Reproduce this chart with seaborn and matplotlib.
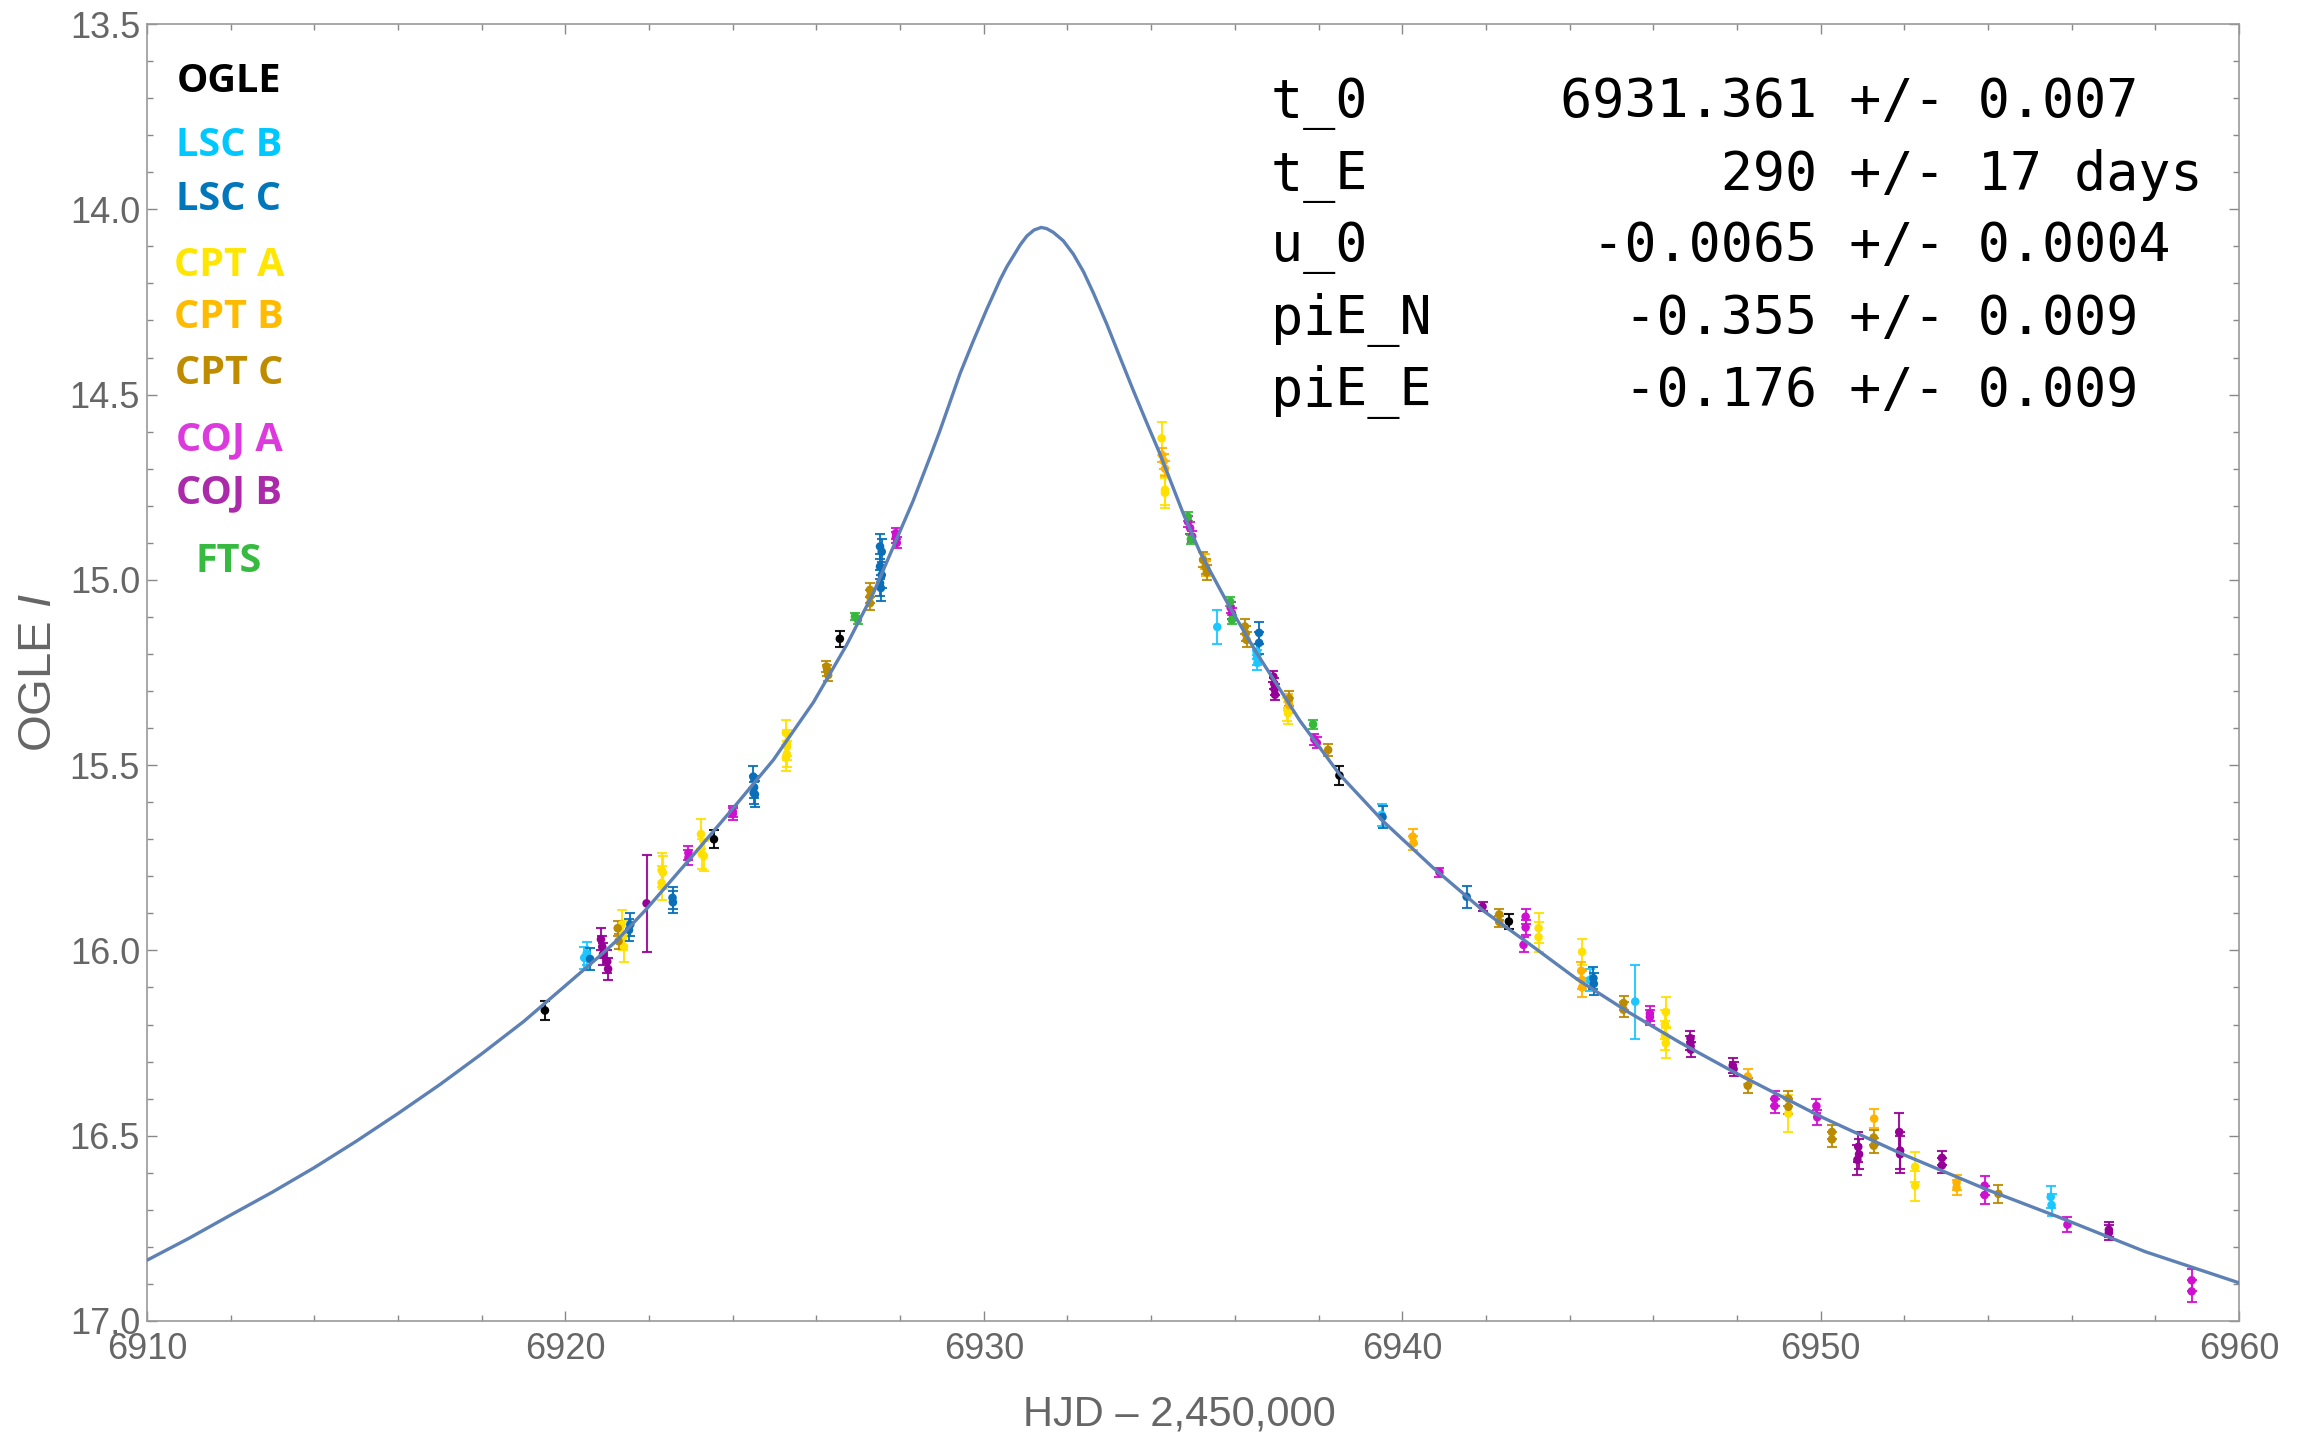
import numpy as np
import pandas as pd
import matplotlib
matplotlib.use("Agg")
import matplotlib.pyplot as plt
from matplotlib.ticker import MultipleLocator
import seaborn as sns

# ---------------- model curve ----------------
model_t = [6910.0, 6911.0, 6912.0, 6913.0, 6914.0, 6915.0, 6916.0, 6917.0, 6918.0, 6919.0,
           6920.0, 6920.8, 6921.23, 6921.94,
           6923.06, 6924.01, 6924.97, 6925.93, 6926.72, 6927.36, 6927.84, 6928.31,
           6928.71, 6928.95, 6929.43, 6929.75, 6930.07, 6930.39, 6930.55, 6930.87,
           6931.03, 6931.20, 6931.37, 6931.50, 6931.66, 6931.90, 6932.14, 6932.38, 6932.62,
           6932.94, 6933.25, 6933.57, 6933.89, 6934.21, 6934.77, 6935.17, 6935.85, 6936.52,
           6937.56, 6938.51, 6939.55, 6940.74, 6941.94, 6943.13, 6944.17, 6945.40, 6946.63,
           6947.91, 6950.05, 6951.94, 6953.99, 6955.70, 6957.76, 6960.0]
model_m = [16.836, 16.777, 16.714, 16.652, 16.586, 16.515, 16.440, 16.362, 16.279, 16.192,
           16.095, 16.017, 15.973, 15.888,
           15.742, 15.616, 15.486, 15.330, 15.176, 15.036, 14.910, 14.787,
           14.670, 14.598, 14.444, 14.355, 14.270, 14.190, 14.155, 14.096,
           14.072, 14.056, 14.049, 14.052, 14.062, 14.085, 14.121, 14.168, 14.226,
           14.310, 14.398, 14.488, 14.575, 14.660, 14.822, 14.926, 15.068, 15.197,
           15.381, 15.526, 15.652, 15.777, 15.893, 15.990, 16.077, 16.166, 16.248,
           16.327, 16.451, 16.549, 16.646, 16.720, 16.813, 16.897]

# ---------------- data per telescope ----------------
ogle_t = [6919.51, 6923.55, 6926.56, 6938.50, 6942.55]
ogle_m = [16.162, 15.700, 15.159, 15.528, 15.922]
ogle_e = [0.025, 0.024, 0.022, 0.025, 0.020]

lscb_t = [6920.45, 6920.51, 6935.58, 6936.52, 6936.53, 6936.54, 6939.51, 6944.48, 6945.57, 6955.50, 6955.52]
lscb_m = [16.020, 16.008, 15.127, 15.194, 15.210, 15.224, 15.634, 16.080, 16.138, 16.665, 16.687]
lscb_e = [0.03, 0.03, 0.045, 0.02, 0.02, 0.02, 0.03, 0.03, 0.10, 0.03, 0.03]

lscc_t = [6920.59, 6921.52, 6921.55, 6922.56, 6922.57, 6924.49, 6924.51, 6924.50, 6924.53,
          6927.52, 6927.56, 6927.52, 6927.56, 6927.52, 6927.54, 6936.58, 6936.58, 6939.53,
          6941.54, 6944.57, 6944.58]
lscc_m = [16.023, 15.945, 15.930, 15.858, 15.870, 15.531, 15.560, 15.575, 15.579,
          14.910, 14.924, 14.964, 14.987, 15.009, 15.022, 15.143, 15.170, 15.640,
          15.855, 16.075, 16.090]
lscc_e = [0.03, 0.03, 0.03, 0.03, 0.03, 0.03, 0.03, 0.03, 0.035,
          0.035, 0.035, 0.035, 0.035, 0.035, 0.035, 0.03, 0.03, 0.03,
          0.03, 0.03, 0.03]

cpta_t = [6921.35, 6921.38, 6921.40, 6922.30, 6922.33, 6922.30, 6923.24, 6923.26, 6923.31,
          6925.27, 6925.29, 6925.30, 6925.29, 6925.27, 6934.25, 6934.33, 6934.33, 6937.25,
          6937.27, 6943.26, 6943.26, 6944.30, 6946.30, 6946.28, 6946.28, 6946.30, 6949.23,
          6952.26, 6952.26]
cpta_m = [15.930, 15.960, 15.990, 15.783, 15.790, 15.818, 15.686, 15.740, 15.745,
          15.413, 15.440, 15.450, 15.470, 15.480, 14.618, 14.757, 14.765, 15.350,
          15.360, 15.940, 15.964, 16.004, 16.166, 16.200, 16.230, 16.250, 16.440,
          16.584, 16.635]
cpta_e = [0.04, 0.04, 0.04, 0.045, 0.045, 0.045, 0.04, 0.04, 0.04,
          0.035, 0.035, 0.035, 0.035, 0.035, 0.045, 0.04, 0.04, 0.03,
          0.03, 0.04, 0.04, 0.035, 0.04, 0.04, 0.04, 0.04, 0.05,
          0.04, 0.04]

cptb_t = [6934.26, 6934.30, 6934.33, 6935.28, 6935.32, 6937.28, 6937.30, 6940.25, 6940.27,
          6944.28, 6944.30, 6944.30, 6948.26, 6951.28, 6953.25, 6953.25]
cptb_m = [14.663, 14.680, 14.700, 14.950, 14.970, 15.327, 15.338, 15.693, 15.710,
          16.055, 16.080, 16.100, 16.340, 16.454, 16.626, 16.640]
cptb_e = [0.02, 0.02, 0.02, 0.02, 0.02, 0.02, 0.02, 0.02, 0.02,
          0.025, 0.025, 0.025, 0.02, 0.025, 0.02, 0.02]

cptc_t = [6921.25, 6921.27, 6926.24, 6926.26, 6926.28, 6927.28, 6927.28, 6927.28, 6935.24,
          6935.30, 6935.33, 6936.24, 6936.26, 6936.28, 6937.30, 6938.23, 6942.32, 6942.32,
          6945.29, 6945.29, 6948.26, 6949.23, 6949.23, 6950.27, 6950.27, 6951.27, 6951.27,
          6954.25]
cptc_m = [15.940, 15.975, 15.234, 15.245, 15.257, 15.027, 15.045, 15.063, 14.946,
          14.965, 14.980, 15.126, 15.145, 15.162, 15.320, 15.459, 15.903, 15.923,
          16.142, 16.160, 16.365, 16.400, 16.422, 16.490, 16.510, 16.505, 16.527,
          16.657]
cptc_e = [0.02, 0.02, 0.015, 0.015, 0.015, 0.018, 0.018, 0.018, 0.02,
          0.02, 0.02, 0.02, 0.02, 0.02, 0.02, 0.015, 0.015, 0.015,
          0.02, 0.02, 0.02, 0.02, 0.02, 0.02, 0.02, 0.02, 0.02,
          0.025]

coja_t = [6922.94, 6922.94, 6924.00, 6924.00, 6927.90, 6927.90, 6927.92, 6934.88, 6934.93,
          6934.98, 6935.90, 6935.93, 6937.90, 6937.96, 6940.89, 6942.95, 6942.95, 6942.90,
          6945.92, 6945.92, 6948.90, 6948.90, 6949.90, 6949.92, 6953.92, 6953.92, 6955.90,
          6958.87, 6958.87]
coja_m = [15.737, 15.750, 15.625, 15.632, 14.874, 14.885, 14.900, 14.843, 14.860,
          14.883, 15.075, 15.090, 15.430, 15.440, 15.789, 15.909, 15.938, 15.985,
          16.170, 16.180, 16.400, 16.420, 16.420, 16.450, 16.635, 16.660, 16.740,
          16.890, 16.920]
coja_e = [0.02, 0.02, 0.015, 0.015, 0.015, 0.015, 0.015, 0.015, 0.015,
          0.015, 0.015, 0.015, 0.015, 0.015, 0.012, 0.02, 0.02, 0.02,
          0.02, 0.02, 0.02, 0.02, 0.02, 0.02, 0.025, 0.025, 0.02,
          0.03, 0.03]

cojb_t = [6920.85, 6920.88, 6920.90, 6921.00, 6921.02, 6921.94, 6936.92, 6936.94, 6936.95,
          6936.96, 6941.92, 6946.89, 6946.89, 6946.90, 6947.90, 6947.92, 6950.90, 6950.92,
          6950.88, 6951.88, 6951.90, 6951.90, 6952.90, 6952.90, 6956.89, 6956.89]
cojb_m = [15.970, 15.990, 16.010, 16.030, 16.050, 15.873, 15.261, 15.280, 15.295,
          15.310, 15.882, 16.237, 16.250, 16.268, 16.310, 16.320, 16.530, 16.550,
          16.565, 16.490, 16.540, 16.550, 16.560, 16.580, 16.754, 16.762]
cojb_e = [0.03, 0.03, 0.03, 0.03, 0.03, 0.13, 0.015, 0.015, 0.015,
          0.015, 0.012, 0.02, 0.02, 0.02, 0.02, 0.02, 0.04, 0.04,
          0.04, 0.05, 0.05, 0.05, 0.02, 0.02, 0.02, 0.02]

fts_t = [6926.92, 6926.99, 6934.88, 6934.95, 6935.89, 6935.93, 6937.87]
fts_m = [15.099, 15.108, 14.830, 14.890, 15.059, 15.108, 15.390]
fts_e = [0.01, 0.01, 0.012, 0.012, 0.012, 0.012, 0.012]

labels = ["OGLE", "LSC B", "LSC C", "CPT A", "CPT B", "CPT C", "COJ A", "COJ B", "FTS"]
point_colors = ["#000000", "#1CC6FF", "#0A6FB8", "#FFE000", "#FFB300", "#BA8A00",
                "#D010D0", "#960096", "#35B83A"]
label_colors = ["#000000", "#00C8FF", "#0077BB", "#FFE600", "#FFBB00", "#BF8C00",
                "#DD3ADD", "#AA2AAA", "#36BB40"]
label_y_px = [81, 145, 200, 266, 318, 373, 440, 493, 561]

param_lines = ["t_0      6931.361 +/- 0.007",
               "t_E           290 +/- 17 days",
               "u_0       -0.0065 +/- 0.0004",
               "piE_N      -0.355 +/- 0.009",
               "piE_E      -0.176 +/- 0.009"]
param_y_px = [104, 176, 248, 320, 392]

xticks = [6910, 6920, 6930, 6940, 6950, 6960]
yticks = [13.5, 14.0, 14.5, 15.0, 15.5, 16.0, 16.5, 17.0]

series = [(ogle_t, ogle_m, ogle_e), (lscb_t, lscb_m, lscb_e), (lscc_t, lscc_m, lscc_e),
          (cpta_t, cpta_m, cpta_e), (cptb_t, cptb_m, cptb_e), (cptc_t, cptc_m, cptc_e),
          (coja_t, coja_m, coja_e), (cojb_t, cojb_m, cojb_e), (fts_t, fts_m, fts_e)]

frames = []
for lab, (t, m, e) in zip(labels, series):
    frames.append(pd.DataFrame({"t": t, "mag": m, "err": e, "tel": lab}))
data = pd.concat(frames, ignore_index=True)
model = pd.DataFrame({"t": model_t, "mag": model_m})

# ---------------- figure ----------------
sns.set_theme(style="ticks")
plt.rcParams["font.family"] = ["Liberation Sans", "DejaVu Sans"]
plt.rcParams["mathtext.fontset"] = "custom"
plt.rcParams["mathtext.it"] = "Liberation Sans:italic"
plt.rcParams["mathtext.rm"] = "Liberation Sans"

W, H = 2301, 1433
fig = plt.figure(figsize=(W / 100, H / 100), dpi=100)
L, R, T, B = 147, 2239, 24, 1321
ax = fig.add_axes([L / W, (H - B) / H, (R - L) / W, (B - T) / H])

pal = dict(zip(labels, point_colors))
for lab in labels:
    d = data[data.tel == lab]
    ax.errorbar(d.t, d.mag, yerr=d.err, fmt="none", ecolor=pal[lab], elinewidth=1.5,
                capsize=3.6, capthick=1.5, zorder=2, alpha=0.9)
sns.scatterplot(data=data, x="t", y="mag", hue="tel", palette=pal, s=38, linewidth=0,
                legend=False, ax=ax, zorder=3)
sns.lineplot(data=model, x="t", y="mag", color="#5E81B5", linewidth=2.4, ax=ax,
             zorder=4, sort=False)

ax.set_xlim(6910, 6960)
ax.set_ylim(17.0, 13.5)
ax.set_xticks(xticks)
ax.set_yticks(yticks)
ax.set_xticklabels([str(v) for v in xticks])
ax.set_yticklabels([f"{v:.1f}" for v in yticks])
ax.xaxis.set_minor_locator(MultipleLocator(2))
ax.yaxis.set_minor_locator(MultipleLocator(0.1))
gray = "#666666"
ax.tick_params(which="both", direction="in", top=True, right=True, color="#888888",
               width=1.0)
ax.tick_params(which="major", length=7)
ax.tick_params(which="minor", length=4)
ax.tick_params(axis="x", which="major", labelsize=26, labelcolor=gray, pad=8)
ax.tick_params(axis="y", which="major", labelsize=26, labelcolor=gray, pad=5)
for s in ax.spines.values():
    s.set_color("#9a9a9a")
    s.set_linewidth(1.2)

ax.set_xlabel("HJD \u2013 2,450,000", fontsize=30, color=gray, labelpad=20)
ax.xaxis.label.set_x(0.4935)
ax.set_ylabel("OGLE $I$", fontsize=34, color=gray, labelpad=6)

# legend as coloured text
def fy(px):
    return 1 - (px - T) / (B - T)

for lab, col, ypx in zip(labels, label_colors, label_y_px):
    ax.text((229 - L) / (R - L), fy(ypx), lab, transform=ax.transAxes, ha="center",
            va="center", fontsize=28.5, fontweight="bold", color=col,
            family=["Open Sans", "DejaVu Sans"])

for line, ypx in zip(param_lines, param_y_px):
    ax.text((1271 - L) / (R - L), fy(ypx), line, transform=ax.transAxes, ha="left",
            va="center", fontsize=38.4, color="black", family=["DejaVu Sans Mono"])

fig.savefig("out.png", dpi=100)
